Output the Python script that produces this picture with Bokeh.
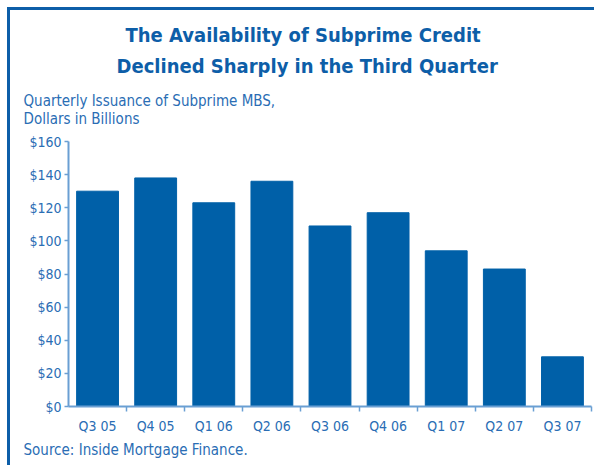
from bokeh.plotting import figure
from bokeh.models import FixedTicker, Title, Range1d, NumeralTickFormatter
from bokeh.embed import file_html
from bokeh.resources import INLINE

categories = ["Q3 05", "Q4 05", "Q1 06", "Q2 06", "Q3 06", "Q4 06", "Q1 07", "Q2 07", "Q3 07"]
values = [130, 138, 123, 136, 109, 117, 94, 83, 30]
y_ticks = [0, 20, 40, 60, 80, 100, 120, 140, 160]

title_lines = ["The Availability of Subprime Credit", "Declined Sharply in the Third Quarter"]
subtitle_lines = ["Quarterly Issuance of Subprime MBS,", "Dollars in Billions"]
source_text = "Source: Inside Mortgage Finance."

FONT = "DejaVu Sans Condensed, Roboto"
TITLE_C = "#0d5ea8"
TEXT_C = "#2a6db4"
BAR_C = "#0060a8"
AXIS_C = "#6a9fd3"

n = len(categories)
xs = [i + 0.5 for i in range(n)]

p = figure(width=587, height=458, output_backend="svg", toolbar_location=None,
           x_range=Range1d(0, n), y_range=Range1d(0, y_ticks[-1]),
           min_border_left=58, min_border_right=6, min_border_top=131, min_border_bottom=62)
p.styles = {"border-top": "3px solid " + TITLE_C, "border-left": "3px solid " + TITLE_C,
            "margin-top": "7px", "margin-left": "7px"}

p.vbar(x=xs, top=values, width=0.72, color=BAR_C)

p.xgrid.visible = False
p.ygrid.visible = False
p.outline_line_color = None

xa = p.xaxis[0]
xa.ticker = FixedTicker(ticks=xs, minor_ticks=list(range(1, n + 1)))
xa.major_label_overrides = {x: c for x, c in zip(xs, categories)}
xa.major_tick_out = 0
xa.major_tick_in = 0
xa.minor_tick_out = 5
xa.minor_tick_in = 0
xa.minor_tick_line_color = AXIS_C
xa.minor_tick_line_width = 1.5
xa.axis_line_color = AXIS_C
xa.axis_line_width = 2
xa.major_label_text_font = FONT
xa.major_label_text_font_size = "14px"
xa.major_label_text_color = TEXT_C
xa.major_label_standoff = 6

ya = p.yaxis[0]
ya.ticker = FixedTicker(ticks=y_ticks)
ya.formatter = NumeralTickFormatter(format="$0")
ya.major_tick_out = 4
ya.major_tick_in = 0
ya.minor_tick_out = 0
ya.minor_tick_in = 0
ya.major_tick_line_color = AXIS_C
ya.major_tick_line_width = 1.5
ya.axis_line_color = AXIS_C
ya.axis_line_width = 2
ya.major_label_text_font = FONT
ya.major_label_text_font_size = "14px"
ya.major_label_text_color = TEXT_C
ya.major_label_standoff = 3


def spacer(k):
    return Title(text=" ", text_font_size="1px", standoff=k)


# above panel: first added sits nearest to the frame
p.add_layout(spacer(10), "above")
p.add_layout(Title(text="\n".join(subtitle_lines), align="left", offset=-45, standoff=0,
                   text_font=FONT, text_font_size="15px", text_font_style="normal",
                   text_line_height=1.03, text_color=TEXT_C), "above")
p.add_layout(spacer(9), "above")
p.add_layout(Title(text=title_lines[1], align="left", offset=48, standoff=0,
                   text_font=FONT, text_font_size="20px", text_font_style="bold",
                   text_color=TITLE_C), "above")
p.add_layout(Title(text=title_lines[0], align="left", offset=57, standoff=9,
                   text_font=FONT, text_font_size="20px", text_font_style="bold",
                   text_color=TITLE_C), "above")
p.add_layout(Title(text=source_text, align="left", offset=-45, standoff=4,
                   text_font=FONT, text_font_size="15px", text_font_style="normal",
                   text_color=TEXT_C), "below")

open("out.html", "w").write(file_html(p, INLINE))
